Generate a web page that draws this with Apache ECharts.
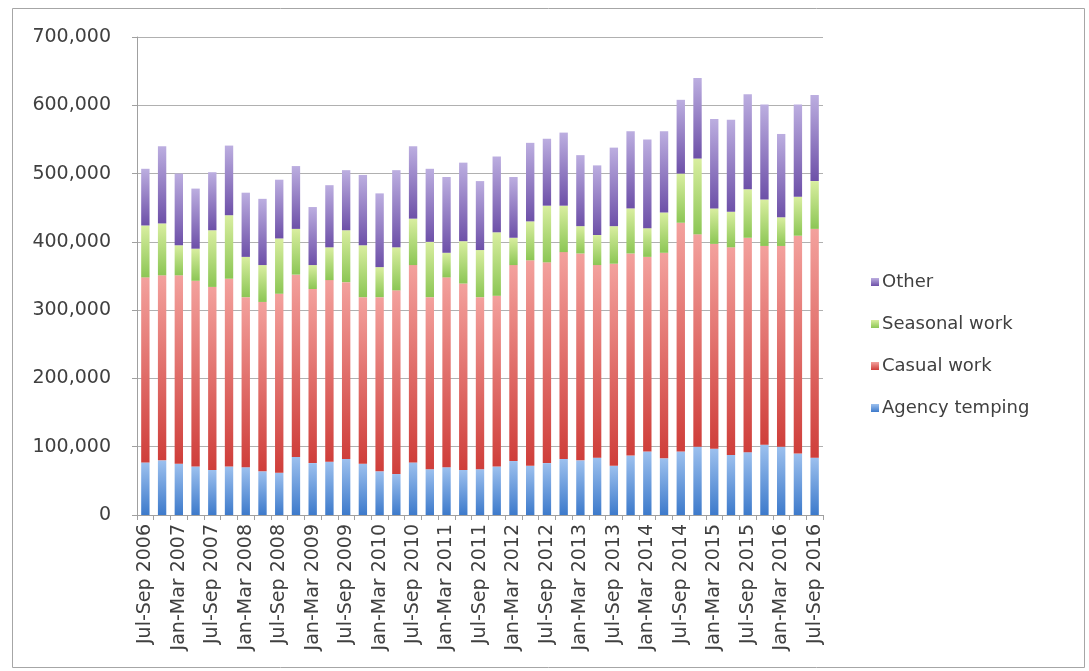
<!DOCTYPE html>
<html>
<head>
<meta charset="utf-8">
<script src="https://cdn.jsdelivr.net/npm/echarts@6/dist/echarts.min.js"></script>
<style>
html,body{margin:0;padding:0;background:#fff;}
#chart{width:1089px;height:671px;}
</style>
</head>
<body>
<div id="chart"></div>
<script>
const categories = [
  'Jul-Sep 2006','Oct-Dec 2006','Jan-Mar 2007','Apr-Jun 2007','Jul-Sep 2007','Oct-Dec 2007',
  'Jan-Mar 2008','Apr-Jun 2008','Jul-Sep 2008','Oct-Dec 2008','Jan-Mar 2009','Apr-Jun 2009',
  'Jul-Sep 2009','Oct-Dec 2009','Jan-Mar 2010','Apr-Jun 2010','Jul-Sep 2010','Oct-Dec 2010',
  'Jan-Mar 2011','Apr-Jun 2011','Jul-Sep 2011','Oct-Dec 2011','Jan-Mar 2012','Apr-Jun 2012',
  'Jul-Sep 2012','Oct-Dec 2012','Jan-Mar 2013','Apr-Jun 2013','Jul-Sep 2013','Oct-Dec 2013',
  'Jan-Mar 2014','Apr-Jun 2014','Jul-Sep 2014','Oct-Dec 2014','Jan-Mar 2015','Apr-Jun 2015',
  'Jul-Sep 2015','Oct-Dec 2015','Jan-Mar 2016','Apr-Jun 2016','Jul-Sep 2016'
];
const agencyTemping = [
  77000,80000,75000,71000,66000,71000,70000,64000,62000,85000,
  76000,78000,82000,75000,64000,60000,77000,67000,70000,66000,
  67000,71000,79000,72000,76000,82000,80000,84000,72000,87000,
  93000,83000,93000,100000,97000,88000,92000,103000,100000,90000,
  84000
];
const casualWork = [
  271000,271000,276000,272000,268000,275000,249000,248000,262000,267000,
  255000,266000,259000,244000,255000,269000,289000,252000,278000,273000,
  252000,250000,287000,301000,294000,303000,303000,282000,296000,296000,
  285000,301000,335000,311000,300000,304000,314000,291000,294000,319000,
  335000
];
const seasonalWork = [
  76000,76000,44000,47000,83000,93000,59000,54000,81000,67000,
  35000,48000,76000,76000,44000,63000,68000,81000,36000,62000,
  69000,93000,40000,57000,83000,68000,40000,44000,55000,66000,
  42000,59000,72000,111000,52000,52000,71000,68000,42000,57000,
  70000
];
const other = [
  83000,113000,105000,88000,85000,102000,94000,97000,86000,92000,
  85000,91000,88000,103000,108000,113000,106000,107000,111000,115000,
  101000,111000,89000,115000,98000,107000,104000,102000,115000,113000,
  130000,119000,108000,118000,131000,135000,139000,139000,122000,135000,
  126000
];
const yTicks = [0,100000,200000,300000,400000,500000,600000,700000];

const FONT = 'DejaVu Sans';
const TXT = '#404040';
function grad(top, bottom){
  return new echarts.graphic.LinearGradient(0,0,0,1,[{offset:0,color:top},{offset:1,color:bottom}]);
}
function fmt(v){ return v.toString().replace(/\B(?=(\d{3})+(?!\d))/g, ','); }

const chart = echarts.init(document.getElementById('chart'), null, {renderer:'canvas'});
const mk = (name, data, c1, c2) => ({
  name, type:'bar', stack:'total', data, barCategoryGap:'50%',
  itemStyle:{color:grad(c1,c2)}, emphasis:{disabled:true}
});
chart.setOption({
  animation:false,
  backgroundColor:'#ffffff',
  graphic:[{type:'rect', shape:{x:12.5,y:8.5,width:1072,height:659}, style:{fill:'none',stroke:'#a6a6a6',lineWidth:1}, silent:true}],
  grid:{left:137, right:266, top:37, bottom:156, containLabel:false},
  legend:{
    orient:'vertical', left:866, top:268, itemGap:24, itemWidth:8, itemHeight:8, icon:'rect',
    data:['Other','Seasonal work','Casual work','Agency temping'],
    textStyle:{fontFamily:FONT, fontSize:18, color:TXT, padding:[0,0,0,-2]}
  },
  xAxis:{
    type:'category', data:categories,
    axisLine:{lineStyle:{color:'#a0a0a0'}},
    axisTick:{show:true, interval:0, length:5, lineStyle:{color:'#a0a0a0'}},
    axisLabel:{interval:1, rotate:90, fontFamily:FONT, fontSize:19, color:TXT, margin:9}
  },
  yAxis:{
    type:'value', min:0, max:700000, interval:100000,
    axisLine:{show:true, lineStyle:{color:'#a0a0a0'}},
    axisTick:{show:true, length:5, lineStyle:{color:'#a0a0a0'}},
    splitLine:{lineStyle:{color:'#b0b0b0'}},
    axisLabel:{fontFamily:FONT, fontSize:19, color:TXT, margin:26, formatter:v=>fmt(v)}
  },
  series:[
    mk('Agency temping', agencyTemping, '#9cc0ee', '#3d7acb'),
    mk('Casual work', casualWork, '#f3a19d', '#cf3e3a'),
    mk('Seasonal work', seasonalWork, '#d9eea0', '#8cc655'),
    mk('Other', other, '#bcaee0', '#6d50a8')
  ]
});
</script>
</body>
</html>
